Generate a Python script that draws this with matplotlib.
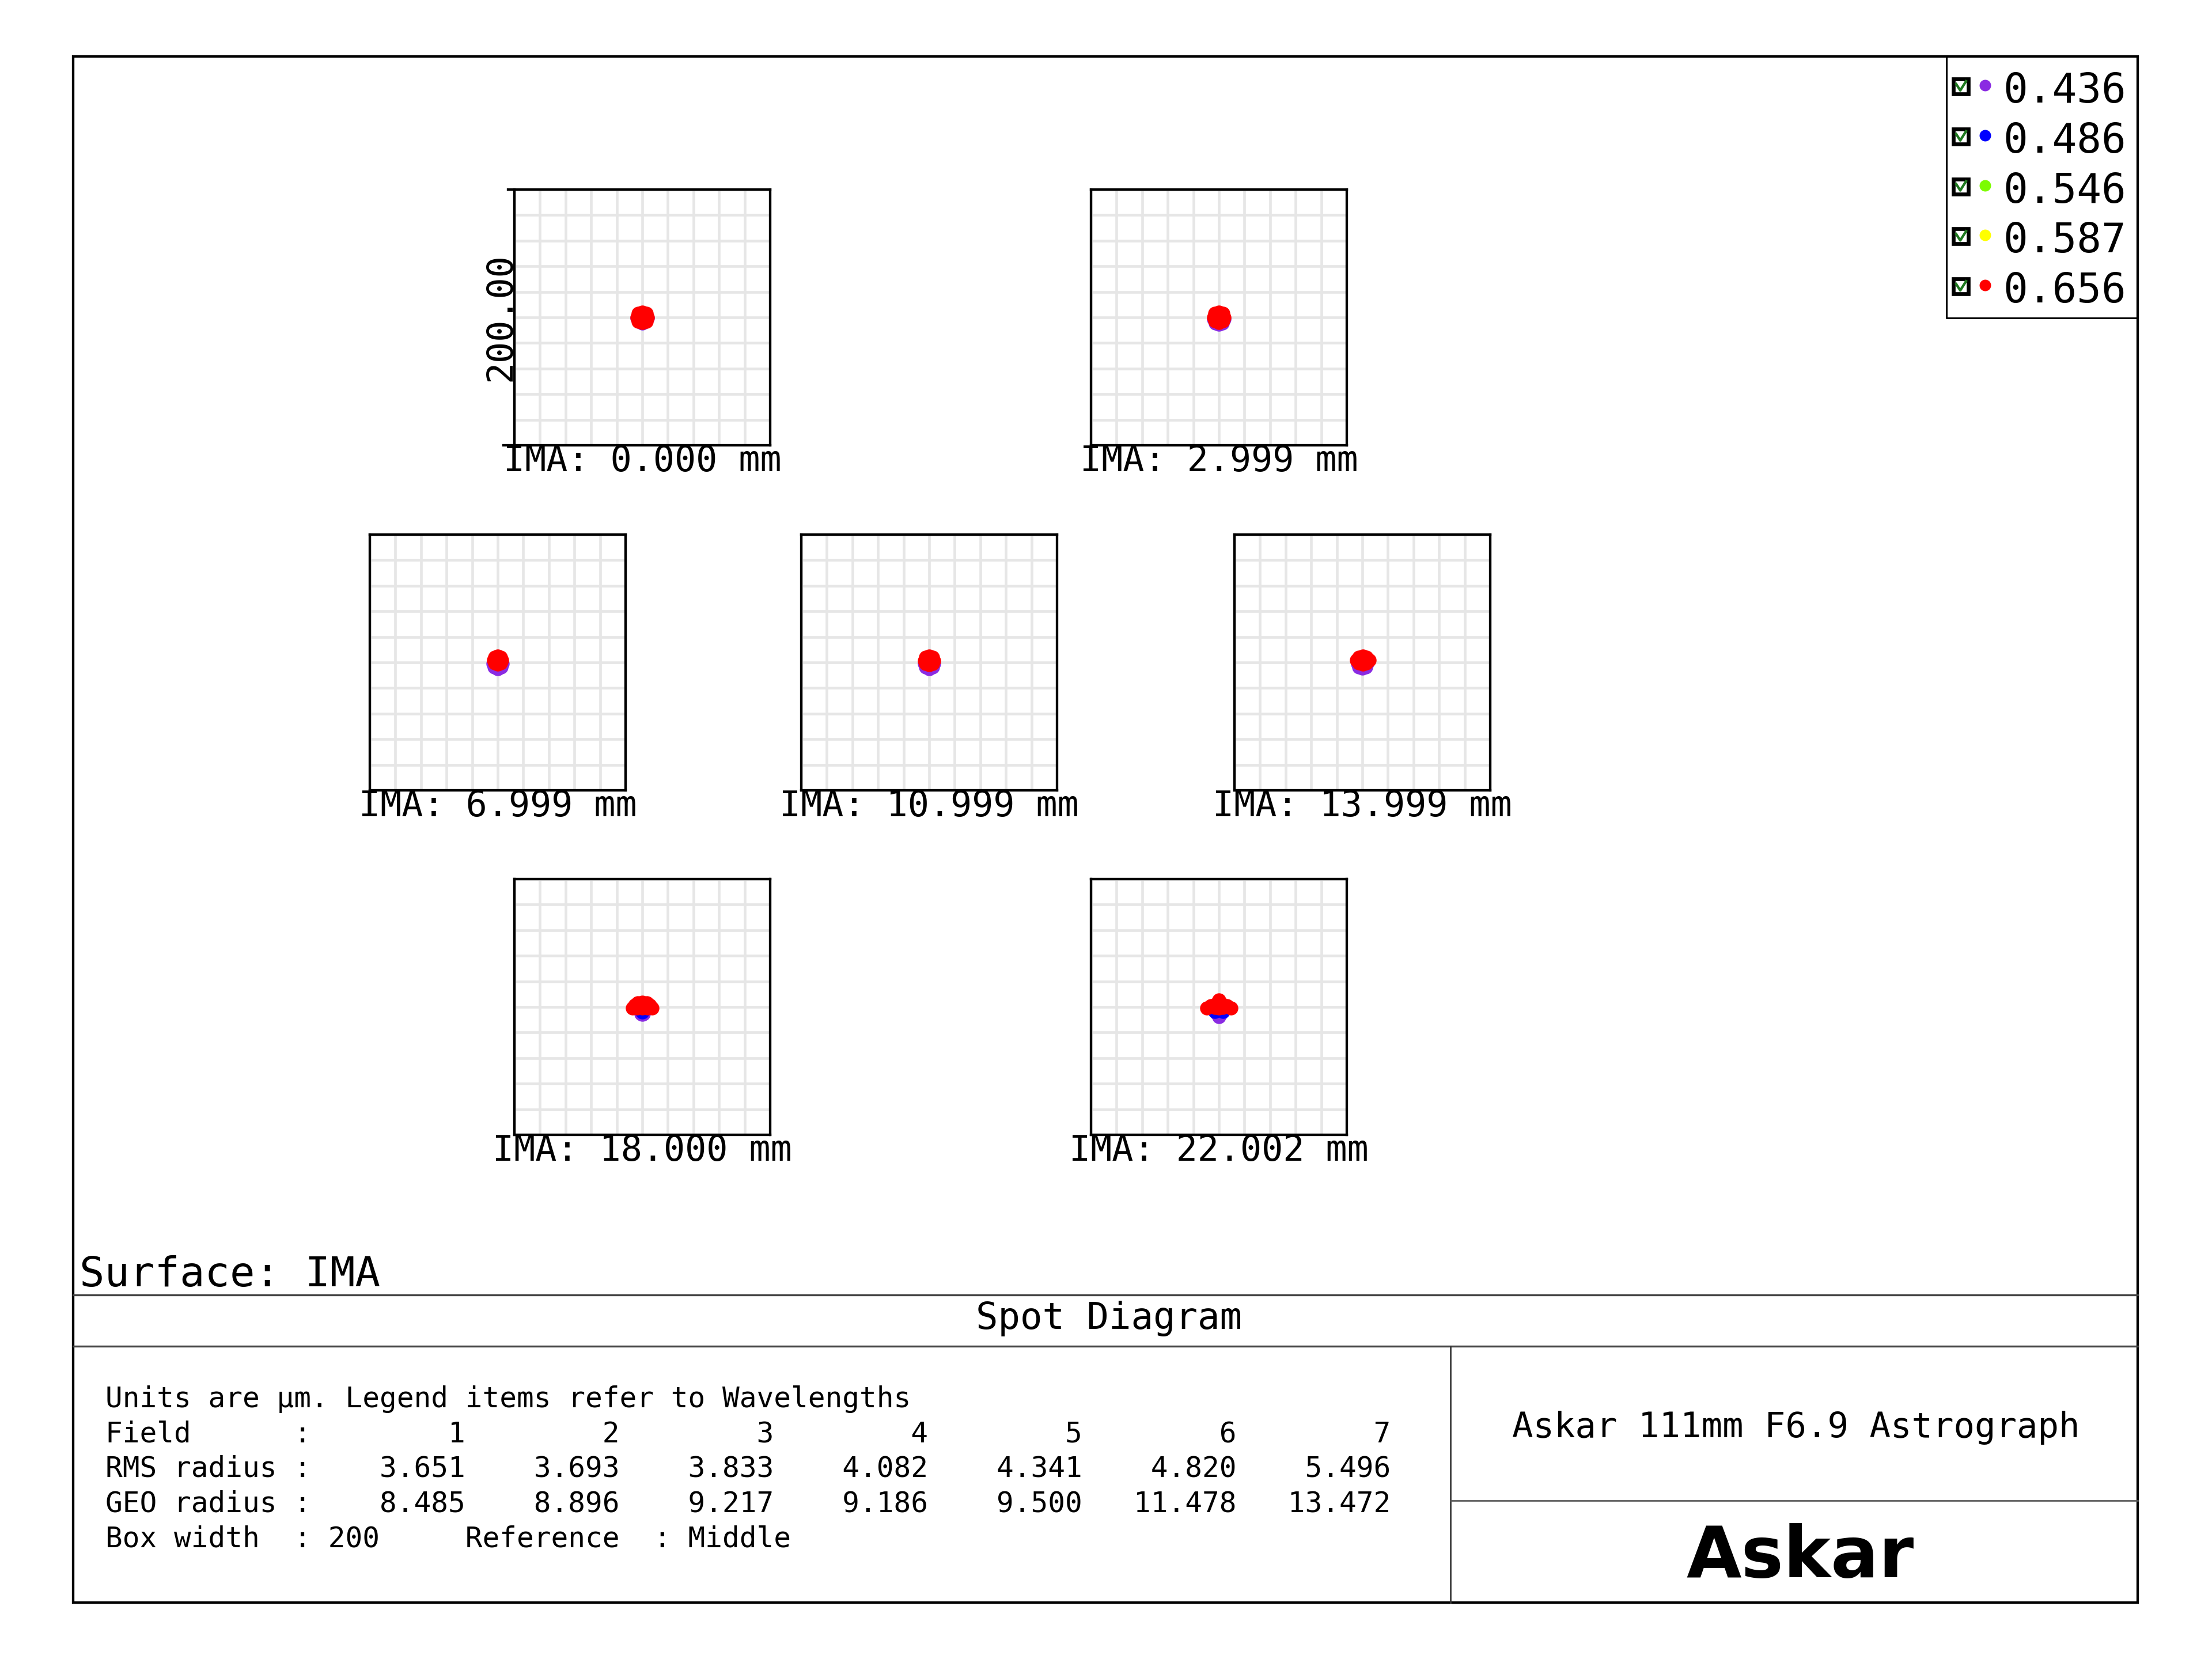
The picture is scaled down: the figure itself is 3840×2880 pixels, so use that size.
import matplotlib
matplotlib.use("Agg")
import matplotlib.pyplot as plt
from matplotlib.patches import Rectangle

W, H = 3840, 2880
DPI = 240
MONO = "DejaVu Sans Mono"

# ---- data ----
wavelengths = ["0.436", "0.486", "0.546", "0.587", "0.656"]
wave_colors = ["#8a2be2", "#0000ff", "#7cfc00", "#ffff00", "#ff0000"]
field_ima = ["0.000", "2.999", "6.999", "10.999", "13.999", "18.000", "22.002"]
rms_radius = ["3.651", "3.693", "3.833", "4.082", "4.341", "4.820", "5.496"]
geo_radius = ["8.485", "8.896", "9.217", "9.186", "9.500", "11.478", "13.472"]
box_width = 200
reference = "Middle"
surface = "IMA"
lens_title = "Askar 111mm F6.9 Astrograph"

# spot blobs, (x, y) in um, one list per field
spots_violet = [
    [(0, -0.5), (4, -0.5), (-4, -0.5), (0, -4.5), (2.8, -3.3), (-2.8, -3.3)],
    [(0, -1.5), (4, -1.5), (-4, -1.5), (0, -5.3), (2.8, -4.3), (-2.8, -4.3)],
    [(0, -1), (3.8, -1), (-3.8, -1), (0, -4.8), (2.7, -3.7), (-2.7, -3.7)],
    [(0, -1), (3.8, -1), (-3.8, -1), (0, -4.8), (2.7, -3.7), (-2.7, -3.7)],
    [(0, -1), (3.8, -1), (-3.8, -1), (0, -4.6), (2.7, -3.6), (-2.7, -3.6)],
    [(0, -6), (-1, -5.5), (1, -5.5), (0, -2)],
    [(0, -7.5), (0, -4), (-2, -5), (2, -5)],
]
spots_blue = [
    [(0, 0)], [(0, -0.5)], [(0, 0)], [(0, 0)], [(0, 0)],
    [(0, -4)],
    [(-3, -3.5), (3, -3.5)],
]
spots_green = [[(0, 0)], [(0, 0)], [(0, 1)], [(0, 1)], [(0, 1)], [(0, 1)], [(0, 1)]]
spots_yellow = [[(0, 0)], [(0, 0)], [(0, 1)], [(0, 1)], [(0, 1)], [(0, 1)], [(0, 1)]]
spots_red = [
    [(0, 0), (4.2, 0), (-4.2, 0), (0, 4.2), (0, -4.2), (3, 3), (-3, 3), (3, -3), (-3, -3)],
    [(0, 0), (4.2, 0), (-4.2, 0), (0, 4.2), (0, -4), (3, 3), (-3, 3), (3, -2.8), (-3, -2.8)],
    [(0, 1.8), (3.3, 1.8), (-3.3, 1.8), (0, 5), (0, -1.4), (2.3, 4.1), (-2.3, 4.1), (2.3, -0.5), (-2.3, -0.5)],
    [(0, 1.5), (3.5, 1.5), (-3.5, 1.5), (0, 4.9), (0, -1.6), (2.5, 4), (-2.5, 4), (2.5, -1), (-2.5, -1)],
    [(0.4, 1.8), (5.3, 1.8), (-4.6, 1.8), (0.4, 5), (0.4, -1.4), (3.3, 4.1), (-2.8, 4.1), (3.3, -0.3), (-2.8, -0.3)],
    [(0, 3.8), (-3.5, 3), (3.5, 3), (-7.5, -1), (7.5, -1), (0, -1), (-4, -1), (4, -1), (-6, 1.5), (6, 1.5)],
    [(0, 5.5), (0, 2), (-3, 2), (3, 2), (-6.5, 1), (6.5, 1), (-9.5, -0.8), (9.5, -0.8),
     (0, -0.8), (-3, -0.5), (3, -0.5)],
]
all_spots = [spots_violet, spots_blue, spots_green, spots_yellow, spots_red]

# ---- layout (pixels of the 3840x2880 canvas) ----
BOX = 444
box_xy = [(893, 329), (1894, 329),
          (642, 928), (1391, 928), (2143, 928),
          (893, 1526), (1894, 1526)]
FRAME = (127, 98, 3711, 2782)
DOT_UM = 11.0

fig = plt.figure(figsize=(W / DPI, H / DPI), dpi=DPI)
fig.patch.set_facecolor("white")

ov = fig.add_axes([0, 0, 1, 1])
ov.set_xlim(0, W)
ov.set_ylim(H, 0)
ov.axis("off")

# outer frame
x0, y0, x1, y1 = FRAME
ov.add_patch(Rectangle((x0, y0), x1 - x0, y1 - y0, fill=False, ec="black", lw=1.3))

# spot boxes
ms = DOT_UM * (BOX / DPI * 72) / box_width
grid_ticks = [-100 + 20 * k for k in range(11)]
for i, (bx, by) in enumerate(box_xy):
    ax = fig.add_axes([bx / W, 1 - (by + BOX) / H, BOX / W, BOX / H])
    ax.set_xlim(-box_width / 2, box_width / 2)
    ax.set_ylim(-box_width / 2, box_width / 2)
    ax.set_xticks(grid_ticks)
    ax.set_yticks(grid_ticks)
    ax.tick_params(length=0, labelbottom=False, labelleft=False)
    ax.grid(True, color="#e6e6e6", lw=1.4)
    ax.set_axisbelow(True)
    for sp in ax.spines.values():
        sp.set_linewidth(1.3)
        sp.set_color("black")
    for spots, col in zip(all_spots, wave_colors):
        xs = [p[0] for p in spots[i]]
        ys = [p[1] for p in spots[i]]
        ax.plot(xs, ys, "o", color=col, ms=ms, mec="none")
    ov.text(bx + BOX / 2, by + BOX + 45, f"IMA: {field_ima[i]} mm",
            family=MONO, fontsize=18.5, ha="center", va="baseline")

# box-width label and tick stubs on the first box
bx, by = box_xy[0]
ov.text(bx - 24, by + BOX / 2, f"{box_width:.2f}", family=MONO, fontsize=18.5,
        rotation=90, ha="center", va="center")
ov.plot([bx - 11, bx], [by, by], color="black", lw=1.3)
ov.plot([bx - 19, bx], [by + BOX, by + BOX], color="black", lw=1.3)

# legend
ov.plot([3379, 3379, x1], [y0, 552, 552], color="black", lw=0.9)
for k, (wl, col) in enumerate(zip(wavelengths, wave_colors)):
    base = 178 + 86.8 * k
    cy = base - 28
    ov.add_patch(Rectangle((3391, cy - 13), 26, 26, fill=False, ec="black", lw=2.0))
    ov.plot([3396, 3403, 3413], [cy - 4, cy + 7, cy - 9], color="#1f7a1f", lw=1.3)
    ov.plot([3446], [cy - 2], "o", color=col, ms=6, mec="none")
    ov.text(3477, base, wl, family=MONO, fontsize=21.3, va="baseline", ha="left")

# bottom panel
ov.text(138, 2233, f"Surface: {surface}", family=MONO, fontsize=21.7, va="baseline")
ov.plot([x0, x1], [2248, 2248], color="#444444", lw=1.0)
ov.plot([x0, x1], [2337, 2337], color="#444444", lw=1.0)
ov.text(1925, 2307, "Spot Diagram", family=MONO, fontsize=19.2, ha="center", va="baseline")
ov.plot([2518, 2518], [2337, y1], color="#333333", lw=0.8)
ov.plot([2518, x1], [2605, 2605], color="#555555", lw=0.8)

table_lines = [
    "Units are \u00b5m. Legend items refer to Wavelengths",
    "Field      :" + "".join(f"{k + 1:>9}" for k in range(len(field_ima))),
    "RMS radius :" + "".join(f"{v:>9}" for v in rms_radius),
    "GEO radius :" + "".join(f"{v:>9}" for v in geo_radius),
    f"Box width  : {box_width}     Reference  : {reference}",
]
for k, line in enumerate(table_lines):
    ov.text(183, 2443 + 60.5 * k, line, family=MONO, fontsize=14.8, va="baseline", ha="left")

ov.text(3118, 2495, lens_title, family=MONO, fontsize=18.2, ha="center", va="baseline")
ov.text(3125, 2738, "Askar", family="DejaVu Sans", fontweight="bold", fontsize=37,
        ha="center", va="baseline")

fig.savefig("out.png", dpi=DPI, facecolor="white")
